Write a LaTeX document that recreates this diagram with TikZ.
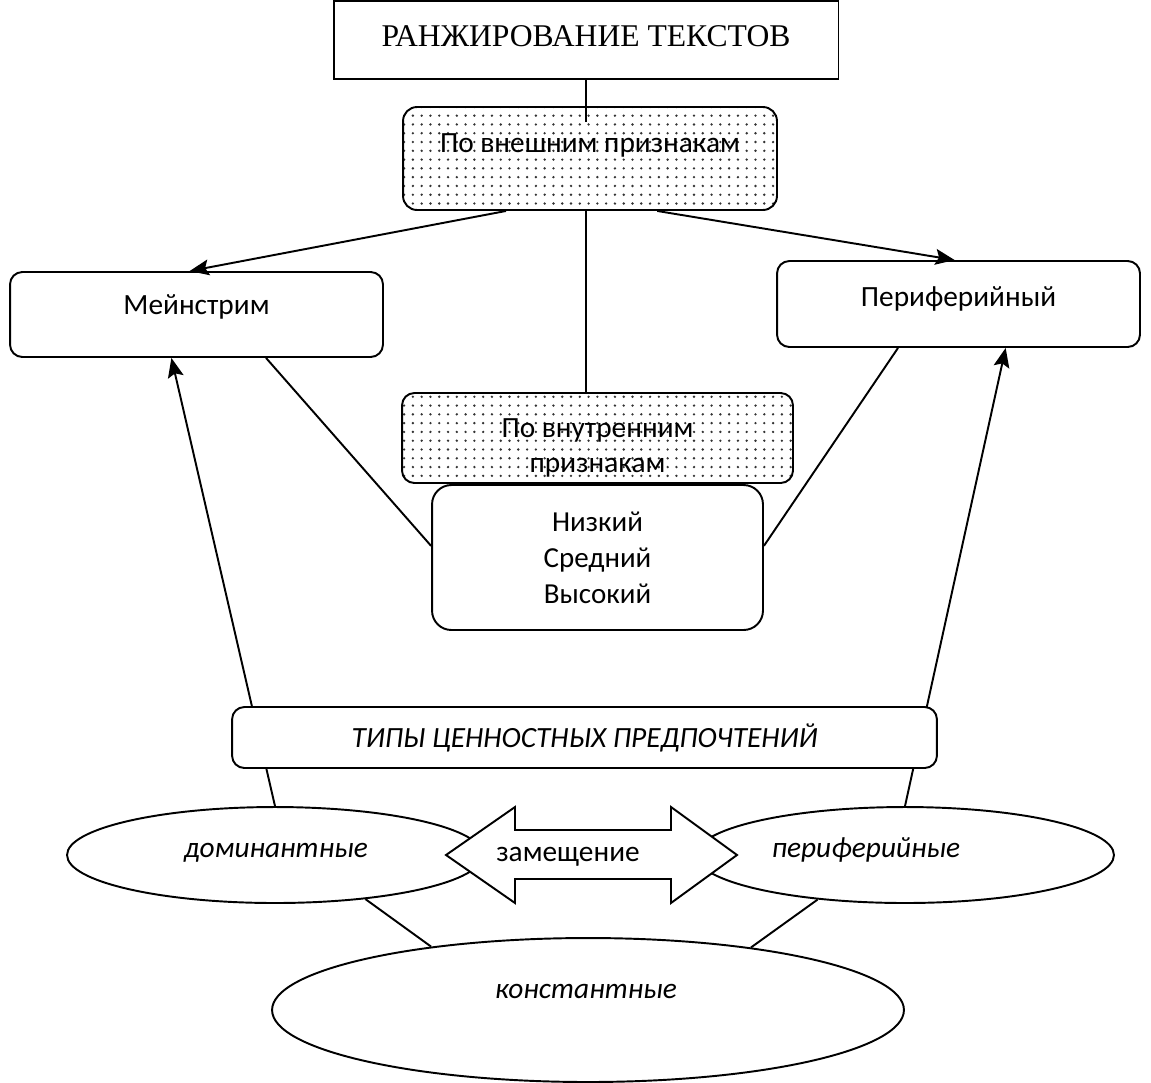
\documentclass[tikz,border=0pt]{standalone}
\usepackage{fontspec}
\setmainfont{Carlito}
\newfontfamily\timesfont{Liberation Serif}
\usetikzlibrary{positioning}
\usetikzlibrary{calc}
\usetikzlibrary{arrows.meta}
\usetikzlibrary{patterns.meta}
\usetikzlibrary{shapes.geometric}

\begin{document}
\begin{tikzpicture}[x=0.02cm,y=-0.02cm,>={Stealth[length=11pt,width=9pt,inset=2pt]},line width=1.1pt,
    title box/.style={draw,rectangle,inner sep=0pt,font=\timesfont\fontsize{18}{22}\selectfont},
    box/.style={draw,rectangle,rounded corners=7pt,inner sep=0pt,align=center,font=\fontsize{16.7}{20}\selectfont},
    plain box/.style={box,fill=white},
    dot box/.style={box,pattern={Dots[distance=5pt,radius=0.75pt]},pattern color=black!80},
    oval/.style={draw,ellipse,fill=white,inner sep=0pt},
    oval text/.style={inner sep=0pt,font=\itshape\fontsize{16.7}{20}\selectfont}]
\useasboundingbox (0,0) rectangle (1151,1082);

\node[title box,minimum width=10.1cm,minimum height=1.56cm,text height=11pt,text depth=3.6pt] (title) at (586,40) {РАНЖИРОВАНИЕ ТЕКСТОВ};
\node[dot box,rounded corners=8pt,minimum width=7.48cm,minimum height=2.06cm,text height=11pt,text depth=18.4pt] (outer) at (590,158.5) {По внешним признакам};
\node[plain box,minimum width=7.46cm,minimum height=1.7cm,text height=10pt,text depth=10pt] (main) at (196.5,314.5) {Мейнстрим};
\node[plain box,minimum width=7.26cm,minimum height=1.72cm,text height=10pt,text depth=7.2pt] (peri) at (958.5,304) {Периферийный};
\node[dot box,minimum width=7.82cm,minimum height=1.8cm,text height=42pt,text depth=2.7pt] (inner) at (597.5,438) {По внутренним\\признакам};
\node[plain box,rounded corners=11pt,minimum width=6.62cm,minimum height=2.9cm,font=\fontsize{16.5}{20.5}\selectfont] (level) at (597.5,557.5) {Низкий\\Средний\\Высокий};

% value types
\node[oval,minimum width=8.32cm,minimum height=1.92cm] (dom) at (275,855) {};
\node[oval,minimum width=8.36cm,minimum height=1.92cm] (perif) at (905,855) {};
\node[oval,minimum width=12.64cm,minimum height=2.88cm] (const) at (588,1010) {};
\node[oval text] (dom text) at (276,853) {доминантные};
\node[oval text] (perif text) at (866,850) {периферийные};
\node[oval text] (const text) at (586,991) {константные};

\path[->]
  (outer.212) edge (main.99)
  (outer.322) edge (peri.95)
  (dom.north) edge (main.240)
  (perif.north) edge (peri.317);
\path
  (title.south) edge ($(title.south |- outer.north)+(0,16)$)
  (outer.south -| title.south) edge (inner.north -| title.south)
  (main.328) edge (level.176)
  (peri.216) edge (level.4)
  (dom.334) edge (const.158)
  (perif.207) edge (const.21);

\node[plain box,minimum width=14.1cm,minimum height=1.22cm,text height=11pt,text depth=0.2pt,font=\itshape\fontsize{16.7}{20}\selectfont] (types) at (584.5,737.5) {ТИПЫ ЦЕННОСТНЫХ ПРЕДПОЧТЕНИЙ};

% substitution arrow
\filldraw[fill=white] (446,855) -- (515,807) -- (515,830) -- (671,830) -- (671,807) -- (737,855)
  -- (671,903) -- (671,879) -- (515,879) -- (515,903) -- cycle;
\node[inner sep=0pt,font=\fontsize{16.7}{20}\selectfont] (swap) at (568,857) {замещение};
\end{tikzpicture}
\end{document}
